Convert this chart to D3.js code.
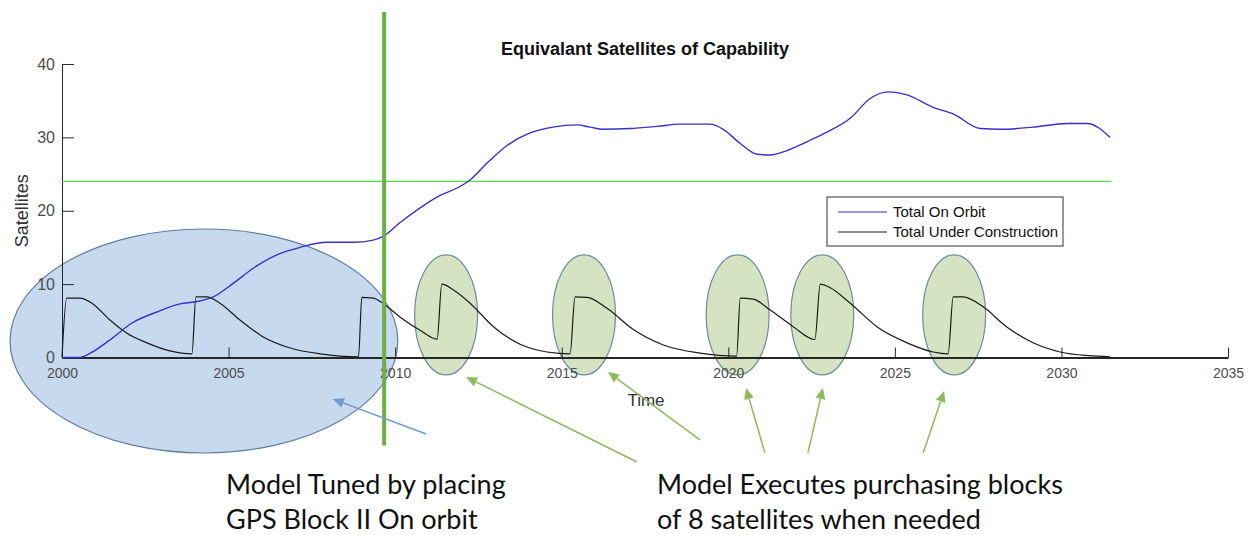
<!DOCTYPE html>
<html>
<head>
<meta charset="utf-8">
<script src="https://cdn.jsdelivr.net/npm/d3@7"></script>
<style>
  body { margin: 0; background: #fff; }
  svg { display: block; font-family: "Liberation Sans", Arial, sans-serif; }
  .axis path, .axis line { stroke: #262626; }
  .axis text { fill: #4d4d4d; }
  .note { font-family: Lato, "Noto Sans", sans-serif; fill: #111; }
</style>
</head>
<body>
<div id="chart"></div>
<script>
// ---- data ----
const orbitYears = [2000, 2000.5, 2000.85, 2001.44, 2002.1, 2002.85, 2003.54, 2004.14, 2004.54, 2005.14,
  2005.75, 2006.45, 2007.14, 2007.95, 2008.74, 2009.34, 2009.64, 2010.15, 2010.75, 2011.35,
  2011.86, 2012.25, 2012.76, 2013.36, 2014.05, 2014.74, 2015.46, 2015.85, 2016.25, 2017.05,
  2017.86, 2018.55, 2019.45, 2019.85, 2020.35, 2020.86, 2021.25, 2021.76, 2022.36, 2022.96,
  2023.66, 2024.26, 2024.8, 2025.37, 2026.15, 2026.75, 2027.56, 2028.16, 2029.15, 2030.17,
  2030.77, 2031.46];
const orbitValues = [0, 0, 0.6, 2.4, 4.7, 6.2, 7.3, 7.7, 8.25, 10.1,
  12.2, 14.0, 15.0, 15.7, 15.7, 16.0, 16.5, 18.4, 20.4, 22.1,
  23.1, 24.2, 26.5, 28.9, 30.6, 31.4, 31.7, 31.4, 31.1, 31.2,
  31.5, 31.8, 31.8, 31.1, 29.2, 27.7, 27.6, 28.2, 29.4, 30.7,
  32.6, 35.3, 36.2, 35.8, 34.1, 33.2, 31.2, 31.1, 31.4, 31.9,
  31.9, 30.0];

const buildYears = [2000, 2000.14, 2000.54, 2000.9, 2001.44, 2001.95, 2002.55, 2003.24, 2003.9, 2004.02,
  2004.35, 2004.74, 2005.34, 2006.04, 2006.85, 2007.75, 2008.9, 2009.0, 2009.35, 2009.6,
  2010.15, 2010.75, 2011.26, 2011.4, 2011.75, 2012.25, 2012.95, 2013.75, 2014.56, 2015.25,
  2015.4, 2015.76, 2016.36, 2017.15, 2018.05, 2019.15, 2020.25, 2020.36, 2020.75, 2021.25,
  2021.95, 2022.6, 2022.76, 2023.06, 2023.66, 2024.46, 2025.37, 2026.15, 2026.6, 2026.75,
  2027.05, 2027.65, 2028.35, 2029.15, 2029.96, 2030.8, 2031.46];
const buildValues = [0, 8.1, 8.1, 7.4, 5.1, 3.3, 2.0, 0.9, 0.5, 8.25,
  8.25, 7.4, 5.1, 2.8, 1.3, 0.5, 0.1, 8.2, 8.1, 7.5,
  5.5, 3.7, 2.5, 10.0, 9.2, 7.4, 4.2, 1.8, 0.75, 0.5,
  8.25, 8.2, 6.7, 3.8, 1.7, 0.6, 0.2, 8.1, 7.95, 6.5,
  4.2, 2.45, 10.0, 9.5, 7.4, 4.2, 2.0, 0.75, 0.5, 8.25,
  8.25, 6.9, 4.2, 2.0, 0.75, 0.25, 0.1];

const targetLevel = 24;
const targetSpan = [2000, 2031.5];
const xTicks = [2000, 2005, 2010, 2015, 2020, 2025, 2030, 2035];
const yTicks = [0, 10, 20, 30, 40];
const seriesNames = ["Total On Orbit", "Total Under Construction"];

// purchase blocks circled in the picture (centre year)
const purchaseYears = [2011.53, 2015.67, 2020.28, 2022.82, 2026.78];
const tunedYear = 2009.67;
// arrows: [fromYear, fromValue, toYear, toValue]
const tunedArrow = [2010.93, -10.43, 2008.13, -5.65];
const purchaseArrows = [
  [2017.26, -14.24, 2012.13, -2.66],
  [2019.15, -11.24, 2016.39, -1.98],
  [2021.1, -13.0, 2020.53, -4.16],
  [2022.39, -13.0, 2022.84, -4.16],
  [2025.85, -13.0, 2026.48, -4.57]
];

/**
 * SETUP
 */
const width = 1253, height = 535;
const margin = { top: 64, left: 62, right: 25, bottom: 177.5 };

const svg = d3.select("#chart").append("svg")
  .attr("width", width)
  .attr("height", height);

const xscale = d3.scaleLinear().domain([2000, 2035]).range([margin.left, width - margin.right]);
const yscale = d3.scaleLinear().domain([0, 40]).range([height - margin.bottom, margin.top]);

const orbit = orbitYears.map((y, i) => ({ year: y, value: orbitValues[i] }));
const build = buildYears.map((y, i) => ({ year: y, value: buildValues[i] }));

// blue ellipse behind the tuning period
svg.append("ellipse")
  .attr("cx", xscale(2004.26))
  .attr("cy", yscale(2.25))
  .attr("rx", xscale(2000) - xscale(1994.18))
  .attr("ry", 112)
  .attr("fill", "#c7d9ee")
  .attr("stroke", "#5f7f9e")
  .attr("stroke-width", 1.2);

// green ellipses round each purchase block
svg.selectAll("ellipse.block")
  .data(purchaseYears)
  .join("ellipse")
  .attr("class", "block")
  .attr("cx", d => xscale(d))
  .attr("cy", yscale(5.8))
  .attr("rx", 31.5)
  .attr("ry", 60)
  .attr("fill", "#d5e3c2")
  .attr("stroke", "#6a8c9c")
  .attr("stroke-width", 1.2);

// axes
const xaxis = d3.axisBottom(xscale).tickValues(xTicks).tickFormat(d3.format("d"))
  .tickSizeInner(-10).tickSizeOuter(0).tickPadding(14);
const yaxis = d3.axisLeft(yscale).tickValues(yTicks)
  .tickSizeInner(-12).tickSizeOuter(0).tickPadding(7);

const gx = svg.append("g")
  .attr("class", "axis x_axis")
  .attr("transform", `translate(0, ${yscale(0)})`)
  .call(xaxis);
gx.select(".domain").attr("stroke", "#3a3a3a").attr("stroke-width", 2);
gx.selectAll("text").attr("font-size", 14).attr("dy", "0.45em");

const gy = svg.append("g")
  .attr("class", "axis y_axis")
  .attr("transform", `translate(${margin.left}, 0)`)
  .call(yaxis);
gy.selectAll("text").attr("font-size", 16);

svg.append("text")
  .attr("x", 646)
  .attr("y", 406)
  .attr("text-anchor", "middle")
  .attr("font-size", 17)
  .attr("fill", "#333")
  .text("Time");

svg.append("text")
  .attr("transform", `translate(28, ${(yscale(0) + yscale(40)) / 2}) rotate(-90)`)
  .attr("text-anchor", "middle")
  .attr("font-size", 18)
  .attr("fill", "#333")
  .text("Satellites");

svg.append("text")
  .attr("x", (xscale(2000) + xscale(2035)) / 2)
  .attr("y", 55)
  .attr("text-anchor", "middle")
  .attr("font-size", 18)
  .attr("font-weight", "bold")
  .attr("fill", "#111")
  .text("Equivalant Satellites of Capability");

// constellation target line
svg.append("line")
  .attr("x1", xscale(targetSpan[0]))
  .attr("x2", xscale(targetSpan[1]))
  .attr("y1", yscale(targetLevel))
  .attr("y2", yscale(targetLevel))
  .attr("stroke", "#4fdc4f")
  .attr("stroke-width", 1.3);

// series
const lineFunc = d3.line()
  .curve(d3.curveMonotoneX)
  .x(d => xscale(d.year))
  .y(d => yscale(d.value));

svg.append("path")
  .datum(build)
  .attr("fill", "none")
  .attr("stroke", "#1a1a1a")
  .attr("stroke-width", 1.2)
  .attr("d", lineFunc);

svg.append("path")
  .datum(orbit)
  .attr("fill", "none")
  .attr("stroke", "#3333c8")
  .attr("stroke-width", 1.4)
  .attr("d", lineFunc);

// legend
const legend = svg.append("g").attr("transform", "translate(827, 197)");
legend.append("rect")
  .attr("width", 236).attr("height", 49)
  .attr("fill", "#fff").attr("stroke", "#333").attr("stroke-width", 1);
const legendColors = ["#3333c8", "#1a1a1a"];
seriesNames.forEach((name, i) => {
  legend.append("line")
    .attr("x1", 11).attr("x2", 60)
    .attr("y1", 15 + i * 20).attr("y2", 15 + i * 20)
    .attr("stroke", legendColors[i]).attr("stroke-width", 1.2);
  legend.append("text")
    .attr("x", 66).attr("y", 20 + i * 20)
    .attr("font-size", 15).attr("fill", "#111")
    .text(name);
});

// vertical marker where the model was tuned
svg.append("line")
  .attr("x1", xscale(tunedYear)).attr("x2", xscale(tunedYear))
  .attr("y1", yscale(47.1)).attr("y2", yscale(-12))
  .attr("stroke", "#70ad47")
  .attr("stroke-width", 4);

// arrows
function arrow(a, color) {
  const x1 = xscale(a[0]), y1 = yscale(a[1]), x2 = xscale(a[2]), y2 = yscale(a[3]);
  const ang = Math.atan2(y2 - y1, x2 - x1);
  const len = 11, half = 5;
  const bx = x2 - len * Math.cos(ang), by = y2 - len * Math.sin(ang);
  svg.append("line")
    .attr("x1", x1).attr("y1", y1).attr("x2", bx).attr("y2", by)
    .attr("stroke", color).attr("stroke-width", 1.5);
  svg.append("path")
    .attr("d", `M${x2},${y2}L${bx - half * Math.sin(ang)},${by + half * Math.cos(ang)}` +
      `L${bx + half * Math.sin(ang)},${by - half * Math.cos(ang)}Z`)
    .attr("fill", color);
}
arrow(tunedArrow, "#6d9bcf");
purchaseArrows.forEach(a => arrow(a, "#8cbb5b"));

// notes
const notes = [
  { x: 226, lines: ["Model Tuned by placing", "GPS Block II On orbit"] },
  { x: 657, lines: ["Model Executes purchasing blocks", "of 8 satellites when needed"] }
];
notes.forEach(n => {
  n.lines.forEach((t, i) => {
    svg.append("text")
      .attr("class", "note")
      .attr("x", n.x)
      .attr("y", 494 + i * 35)
      .attr("font-size", 27)
      .text(t);
  });
});
</script>
</body>
</html>
